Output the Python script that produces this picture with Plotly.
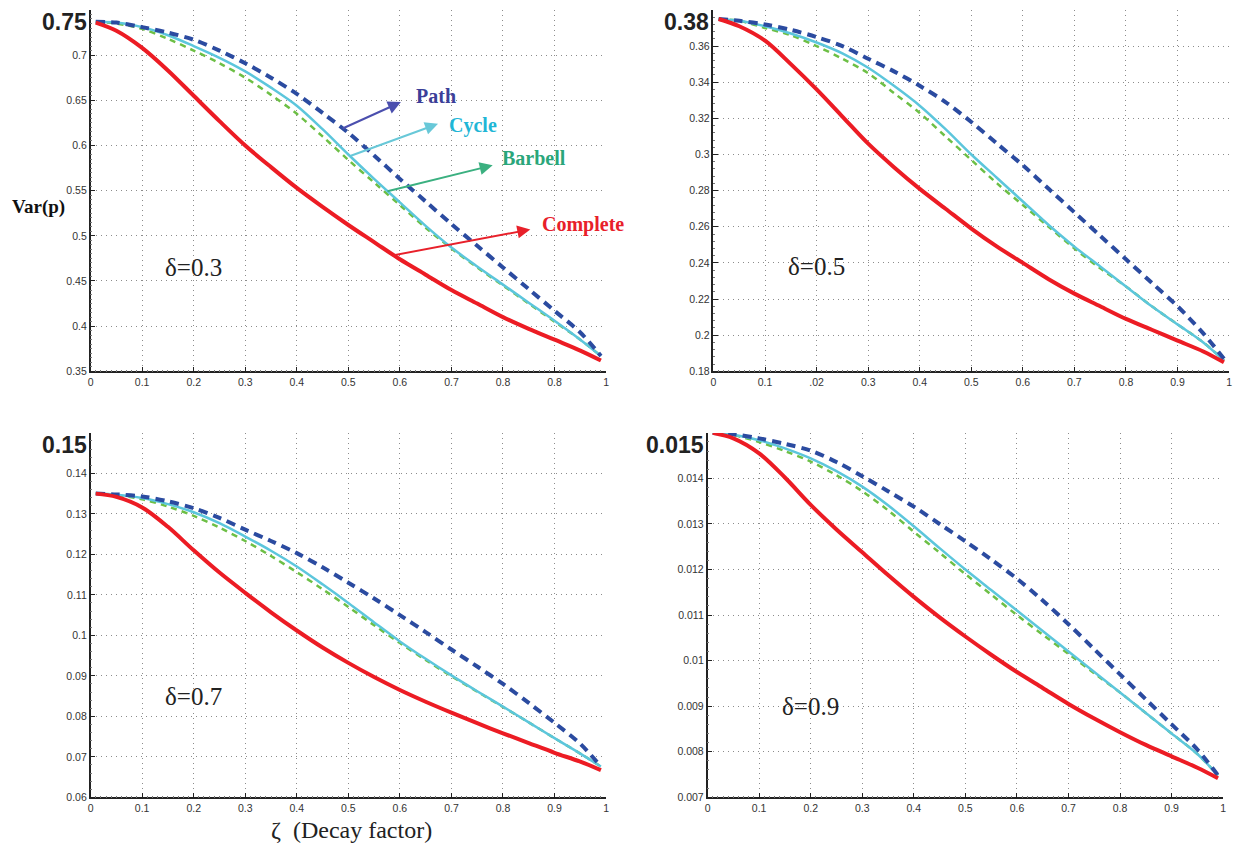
import plotly.graph_objects as go

# Decay factor samples shared by every panel
zeta = [0.01, 0.05, 0.1, 0.15, 0.2, 0.25, 0.3, 0.35, 0.4, 0.45, 0.5,
        0.55, 0.6, 0.65, 0.7, 0.75, 0.8, 0.85, 0.9, 0.95, 0.99]

# delta = 0.3
complete_03 = [0.736, 0.727, 0.708, 0.683, 0.655, 0.627, 0.600, 0.576, 0.553, 0.532, 0.512,
               0.493, 0.474, 0.457, 0.440, 0.425, 0.410, 0.397, 0.385, 0.373, 0.362]
path_03 = [0.737, 0.736, 0.731, 0.725, 0.717, 0.705, 0.691, 0.675, 0.657, 0.636, 0.614,
           0.589, 0.563, 0.538, 0.513, 0.489, 0.465, 0.441, 0.417, 0.393, 0.367]
cycle_03 = [0.737, 0.736, 0.731, 0.722, 0.710, 0.697, 0.682, 0.664, 0.644, 0.618, 0.590,
            0.563, 0.537, 0.511, 0.487, 0.466, 0.446, 0.426, 0.406, 0.385, 0.367]
barbell_03 = [0.737, 0.735, 0.729, 0.718, 0.705, 0.691, 0.675, 0.656, 0.635, 0.610, 0.584,
              0.559, 0.534, 0.509, 0.486, 0.465, 0.445, 0.425, 0.405, 0.385, 0.367]

# delta = 0.5
complete_05 = [0.375, 0.371, 0.363, 0.350, 0.336, 0.321, 0.306, 0.293, 0.281, 0.270, 0.259,
               0.249, 0.240, 0.231, 0.223, 0.216, 0.209, 0.203, 0.197, 0.191, 0.185]
path_05 = [0.375, 0.374, 0.372, 0.369, 0.365, 0.360, 0.353, 0.346, 0.338, 0.329, 0.318,
           0.306, 0.294, 0.281, 0.268, 0.255, 0.242, 0.229, 0.216, 0.201, 0.187]
cycle_05 = [0.375, 0.374, 0.371, 0.367, 0.362, 0.356, 0.348, 0.338, 0.327, 0.314, 0.300,
            0.287, 0.274, 0.261, 0.249, 0.238, 0.227, 0.216, 0.206, 0.196, 0.186]
barbell_05 = [0.375, 0.374, 0.370, 0.366, 0.360, 0.353, 0.345, 0.334, 0.323, 0.310, 0.297,
              0.284, 0.272, 0.260, 0.248, 0.237, 0.227, 0.216, 0.206, 0.196, 0.186]

# delta = 0.7
complete_07 = [0.1350, 0.1342, 0.1316, 0.1268, 0.1210, 0.1155, 0.1105, 0.1057, 0.1012, 0.0970, 0.0932,
               0.0897, 0.0865, 0.0836, 0.0809, 0.0783, 0.0758, 0.0734, 0.0710, 0.0688, 0.0667]
path_07 = [0.1350, 0.1348, 0.1343, 0.1331, 0.1314, 0.1290, 0.1261, 0.1233, 0.1203, 0.1168, 0.1130,
           0.1091, 0.1050, 0.1008, 0.0965, 0.0923, 0.0880, 0.0833, 0.0784, 0.0732, 0.0676]
cycle_07 = [0.1350, 0.1347, 0.1339, 0.1324, 0.1304, 0.1277, 0.1244, 0.1209, 0.1170, 0.1126, 0.1080,
            0.1032, 0.0985, 0.0942, 0.0901, 0.0862, 0.0824, 0.0785, 0.0746, 0.0708, 0.0676]
barbell_07 = [0.1350, 0.1346, 0.1336, 0.1318, 0.1295, 0.1266, 0.1233, 0.1196, 0.1156, 0.1114, 0.1070,
              0.1025, 0.0981, 0.0939, 0.0899, 0.0861, 0.0823, 0.0785, 0.0746, 0.0708, 0.0676]

# delta = 0.9
complete_09 = [0.01500, 0.01488, 0.01455, 0.01402, 0.01342, 0.01288, 0.01238, 0.01188, 0.01140, 0.01095, 0.01053,
               0.01013, 0.00975, 0.00940, 0.00905, 0.00873, 0.00843, 0.00815, 0.00790, 0.00765, 0.00742]
path_09 = [0.01500, 0.01497, 0.01488, 0.01476, 0.01461, 0.01436, 0.01405, 0.01372, 0.01338, 0.01300, 0.01262,
           0.01222, 0.01180, 0.01132, 0.01080, 0.01025, 0.00970, 0.00915, 0.00860, 0.00805, 0.00748]
cycle_09 = [0.01500, 0.01496, 0.01484, 0.01466, 0.01444, 0.01416, 0.01382, 0.01341, 0.01295, 0.01247, 0.01200,
            0.01155, 0.01110, 0.01065, 0.01020, 0.00975, 0.00930, 0.00885, 0.00840, 0.00795, 0.00748]
barbell_09 = [0.01500, 0.01495, 0.01480, 0.01460, 0.01437, 0.01407, 0.01372, 0.01330, 0.01283, 0.01237, 0.01190,
              0.01145, 0.01100, 0.01057, 0.01015, 0.00972, 0.00930, 0.00885, 0.00840, 0.00795, 0.00748]

deltas = ["δ=0.3", "δ=0.5", "δ=0.7", "δ=0.9"]

x_ticks = [0, 0.1, 0.2, 0.3, 0.4, 0.5, 0.6, 0.7, 0.8, 0.9, 1]
x_ticktext = [
    ["0", "0.1", "0.2", "0.3", "0.4", "0.5", "0.6", "0.7", "0.8", "0.8", "1"],
    ["0", "0.1", ".02", "0.3", "0.4", "0.5", "0.6", "0.7", "0.8", "0.9", "1"],
    ["0", "0.1", "0.2", "0.3", "0.4", "0.5", "0.6", "0.7", "0.8", "0.9", "1"],
    ["0", "0.1", "0.2", "0.3", "0.4", "0.5", "0.6", "0.7", "0.8", "0.9", "1"],
]
y_ticks = [
    [0.35, 0.4, 0.45, 0.5, 0.55, 0.6, 0.65, 0.7, 0.75],
    [0.18, 0.2, 0.22, 0.24, 0.26, 0.28, 0.3, 0.32, 0.34, 0.36, 0.38],
    [0.06, 0.07, 0.08, 0.09, 0.1, 0.11, 0.12, 0.13, 0.14, 0.15],
    [0.007, 0.008, 0.009, 0.01, 0.011, 0.012, 0.013, 0.014, 0.015],
]
y_ticktext = [
    ["0.35", "0.4", "0.45", "0.5", "0.55", "0.6", "0.65", "0.7", ""],
    ["0.18", "0.2", "0.22", "0.24", "0.26", "0.28", "0.3", "0.32", "0.34", "0.36", ""],
    ["0.06", "0.07", "0.08", "0.09", "0.1", "0.11", "0.12", "0.13", "0.14", ""],
    ["0.007", "0.008", "0.009", "0.01", "0.011", "0.012", "0.013", "0.014", ""],
]
top_labels = ["0.75", "0.38", "0.15", "0.015"]
y_minor = [0.005, 0.004, 0.002, 0.0002]

# δ label anchor per panel (data coords)
delta_pos = [(0.2, 0.465), (0.2, 0.238), (0.2, 0.0849), (0.2, 0.0090)]

series = [
    (complete_03, path_03, cycle_03, barbell_03),
    (complete_05, path_05, cycle_05, barbell_05),
    (complete_07, path_07, cycle_07, barbell_07),
    (complete_09, path_09, cycle_09, barbell_09),
]

# panel placement (paper coords)
x_domains = [[0.0711, 0.4895], [0.5767, 0.9952], [0.0711, 0.4895], [0.5719, 0.9904]]
y_domains = [[0.5595, 0.9882], [0.5595, 0.9882], [0.0542, 0.4865], [0.0542, 0.4865]]

RED = "#ec1c24"
BLUE = "#2b4ba0"
CYAN = "#5cc6dc"
GREEN = "#6dbf45"
GRID = "#8c8c8c"

fig = go.Figure()
annotations = []
layout = {}

for i, (comp, path, cyc, barb) in enumerate(series):
    n = "" if i == 0 else str(i + 1)
    xa, ya = "x" + n, "y" + n
    common = dict(x=zeta, xaxis=xa, yaxis=ya, mode="lines", showlegend=False)
    fig.add_trace(go.Scatter(y=barb, line=dict(color=GREEN, width=2.5, dash="6px,5px",
                                               shape="spline", smoothing=0.9), **common))
    fig.add_trace(go.Scatter(y=cyc, line=dict(color=CYAN, width=2.5,
                                              shape="spline", smoothing=0.9), **common))
    fig.add_trace(go.Scatter(y=path, line=dict(color=BLUE, width=4, dash="9px,6px",
                                               shape="spline", smoothing=0.9), **common))
    fig.add_trace(go.Scatter(y=comp, line=dict(color=RED, width=4,
                                               shape="spline", smoothing=0.9), **common))

    yt = y_ticks[i]
    layout["xaxis" + n] = dict(
        domain=x_domains[i], anchor=ya, range=[0, 1],
        tickvals=x_ticks, ticktext=x_ticktext[i],
        showgrid=True, gridcolor=GRID, griddash="1px,4px", gridwidth=1,
        showline=True, linecolor="#222", linewidth=1.5,
        ticks="inside", ticklen=5, tickcolor="#222",
        minor=dict(dtick=0.01, ticks="inside", ticklen=2, tickcolor="#777", showgrid=False),
        tickfont=dict(family="Liberation Sans, Arial", size=10.5, color="#333"),
        zeroline=False,
    )
    layout["yaxis" + n] = dict(
        domain=y_domains[i], anchor=xa, range=[yt[0], yt[-1]],
        tickvals=yt, ticktext=y_ticktext[i],
        showgrid=True, gridcolor=GRID, griddash="1px,4px", gridwidth=1,
        showline=True, linecolor="#222", linewidth=1.5,
        ticks="inside", ticklen=5, tickcolor="#222",
        minor=dict(dtick=y_minor[i], ticks="inside", ticklen=2, tickcolor="#777", showgrid=False),
        tickfont=dict(family="Liberation Sans, Arial", size=10.5, color="#333"),
        zeroline=False,
    )

    # large top value on the y axis
    annotations.append(dict(
        xref=xa + " domain", yref=ya, x=0, y=yt[-1], xanchor="right", yanchor="top",
        xshift=-2, yshift=3, showarrow=False, text="<b>%s</b>" % top_labels[i],
        font=dict(family="Liberation Sans, Arial", size=23, color="#222"),
    ))
    dx, dy = delta_pos[i]
    annotations.append(dict(
        xref=xa, yref=ya, x=dx, y=dy, showarrow=False, text=deltas[i],
        font=dict(family="Liberation Serif, Times New Roman", size=25, color="#222"),
    ))

# callouts naming each graph family (delta = 0.3 panel)
callouts = [
    ("Path", "#3b3f99", "#4b4fae", (0.486, 0.618), (0.602, 0.648), (0.670, 0.655)),
    ("Cycle", "#1fb6d6", "#68c8d8", (0.502, 0.588), (0.674, 0.624), (0.742, 0.622)),
    ("Barbell", "#2aa67a", "#3bb080", (0.573, 0.549), (0.780, 0.578), (0.861, 0.586)),
    ("Complete", "#e8202a", "#e8202a", (0.583, 0.478), (0.853, 0.507), (0.956, 0.512)),
]
for name, tcol, acol, tail, head, tpos in callouts:
    annotations.append(dict(
        xref="x", yref="y", axref="x", ayref="y",
        x=head[0], y=head[1], ax=tail[0], ay=tail[1], text="",
        showarrow=True, arrowhead=2, arrowsize=1.3, arrowwidth=2, arrowcolor=acol,
    ))
    annotations.append(dict(
        xref="x", yref="y", x=tpos[0], y=tpos[1], showarrow=False,
        text="<b>%s</b>" % name,
        font=dict(family="Liberation Serif, Times New Roman", size=20, color=tcol),
    ))

annotations.append(dict(
    xref="paper", yref="paper", x=0.006, y=1 - 208 / 849, xanchor="left", yanchor="middle",
    showarrow=False, text="<b>Var(p)</b>",
    font=dict(family="Liberation Serif, Times New Roman", size=19, color="#111"),
))
annotations.append(dict(
    xref="paper", yref="paper", x=0.283, y=1 - 836 / 849, xanchor="center", yanchor="middle",
    showarrow=False, text="ζ  (Decay factor)",
    font=dict(family="Liberation Serif, Times New Roman", size=24, color="#222"),
))

fig.update_layout(
    width=1238, height=849,
    margin=dict(l=0, r=0, t=0, b=0),
    paper_bgcolor="white", plot_bgcolor="white",
    annotations=annotations,
    **layout,
)

fig.write_html("out.html")
